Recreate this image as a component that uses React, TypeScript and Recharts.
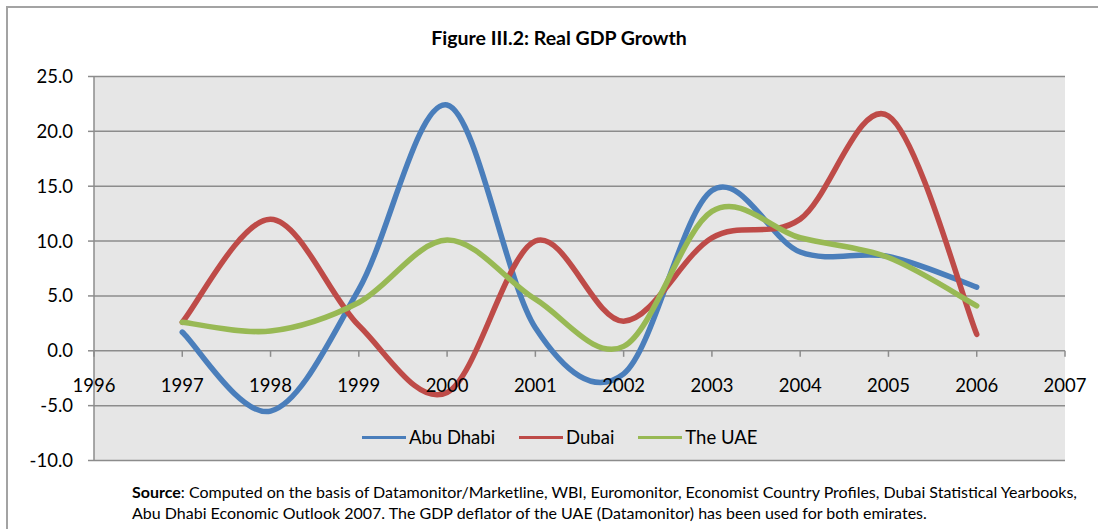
import {
  LineChart,
  Line,
  XAxis,
  YAxis,
  CartesianGrid,
  ReferenceLine,
  Legend,
} from 'recharts';

const years = [1997, 1998, 1999, 2000, 2001, 2002, 2003, 2004, 2005, 2006];
const abuDhabi = [1.7, -5.5, 5.6, 22.4, 2.1, -2.1, 14.6, 9.0, 8.6, 5.8];
const dubai = [2.6, 12.0, 2.3, -3.8, 10.0, 2.7, 10.3, 12.0, 21.4, 1.5];
const uae = [2.6, 1.8, 4.4, 10.1, 4.7, 0.4, 12.7, 10.3, 8.5, 4.1];

const xTicks = [1996, 1997, 1998, 1999, 2000, 2001, 2002, 2003, 2004, 2005, 2006, 2007];
const yTicks = [-10, -5, 0, 5, 10, 15, 20, 25];

const series = [
  { key: 'abuDhabi', name: 'Abu Dhabi', color: '#4a7ebb' },
  { key: 'dubai', name: 'Dubai', color: '#be4b48' },
  { key: 'uae', name: 'The UAE', color: '#98b954' },
];

const data = years.map((year, i) => ({
  year,
  abuDhabi: abuDhabi[i],
  dubai: dubai[i],
  uae: uae[i],
}));

const GRID = '#8c8c8c';
const FONT = 'Lato, "Open Sans", sans-serif';

// Excel-style smoothed line: bezier with catmull-rom control points
function excelCurve(ctx: any) {
  let pts: number[][] = [];
  return {
    areaStart() {},
    areaEnd() {},
    lineStart() {
      pts = [];
    },
    point(x: number, y: number) {
      pts.push([+x, +y]);
    },
    lineEnd() {
      const n = pts.length;
      if (!n) return;
      ctx.moveTo(pts[0][0], pts[0][1]);
      for (let i = 0; i < n - 1; i++) {
        const p0 = pts[Math.max(i - 1, 0)];
        const p1 = pts[i];
        const p2 = pts[i + 1];
        const p3 = pts[Math.min(i + 2, n - 1)];
        ctx.bezierCurveTo(
          p1[0] + (p2[0] - p0[0]) / 6,
          p1[1] + (p2[1] - p0[1]) / 6,
          p2[0] - (p3[0] - p1[0]) / 6,
          p2[1] - (p3[1] - p1[1]) / 6,
          p2[0],
          p2[1]
        );
      }
    },
  };
}

function LegendContent() {
  return (
    <div style={{ display: 'flex', alignItems: 'center', fontFamily: FONT, fontSize: 18.5, color: '#000' }}>
      {series.map((s) => (
        <div key={s.key} style={{ display: 'flex', alignItems: 'center', marginRight: 24 }}>
          <div style={{ width: 44, height: 3, background: s.color }} />
          <span style={{ marginLeft: 3, whiteSpace: 'nowrap' }}>{s.name}</span>
        </div>
      ))}
    </div>
  );
}

export default function App() {
  return (
    <div
      style={{
        position: 'absolute',
        left: 0,
        top: 0,
        width: 1098,
        height: 529,
        background: '#fff',
        overflow: 'hidden',
        fontFamily: FONT,
      }}
    >
      <div
        style={{
          position: 'absolute',
          left: 6,
          top: 6,
          width: 1200,
          height: 600,
          borderTop: '2px solid #a3a3a3',
          borderLeft: '2px solid #a3a3a3',
        }}
      />
      <div
        style={{
          position: 'absolute',
          left: 559,
          top: 26,
          transform: 'translateX(-50%)',
          fontWeight: 700,
          fontSize: 19.5,
          whiteSpace: 'nowrap',
          color: '#000',
        }}
      >
        Figure III.2: Real GDP Growth
      </div>
      <div style={{ position: 'absolute', left: 0, top: 0 }}>
        <LineChart
          width={1098}
          height={529}
          data={data}
          margin={{ top: 76.5, right: 33, bottom: 68.5, left: 0 }}
        >
          <CartesianGrid vertical={false} stroke={GRID} strokeWidth={1.5} fill="#e6e6e6" fillOpacity={1} />
          <XAxis dataKey="year" type="number" domain={[1996, 2007]} ticks={xTicks} hide />
          <YAxis
            type="number"
            domain={[-10, 25]}
            ticks={yTicks}
            interval={0}
            width={94}
            axisLine={{ stroke: GRID, strokeWidth: 1.5 }}
            tickLine={{ stroke: GRID, strokeWidth: 1.5 }}
            tickSize={6}
            tickMargin={15}
            tick={{ fill: '#000', fontSize: 18.5, fontFamily: FONT }}
            tickFormatter={(v: number) => v.toFixed(1)}
          />
          {xTicks.map((yr) => (
            <ReferenceLine
              key={yr}
              segment={[
                { x: yr, y: 0 },
                { x: yr, y: -0.55 },
              ]}
              stroke={GRID}
              strokeWidth={1.5}
              label={{
                value: String(yr),
                position: 'bottom',
                offset: 22,
                fill: '#000',
                fontSize: 18.5,
                fontFamily: FONT,
              }}
            />
          ))}
          <Legend
            verticalAlign="middle"
            align="center"
            layout="horizontal"
            content={<LegendContent />}
            wrapperStyle={{ left: 362, top: 426, width: 'auto', height: 'auto' }}
          />
          {series.map((s) => (
            <Line
              key={s.key}
              dataKey={s.key}
              name={s.name}
              type={excelCurve as any}
              stroke={s.color}
              strokeWidth={5.5}
              strokeLinecap="round"
              dot={false}
              activeDot={false}
              isAnimationActive={false}
            />
          ))}
        </LineChart>
      </div>
      <div
        style={{
          position: 'absolute',
          left: 132,
          top: 481,
          fontSize: 16,
          lineHeight: '21px',
          color: '#000',
          whiteSpace: 'nowrap',
        }}
      >
        <div>
          <b>Source</b>: Computed on the basis of Datamonitor/Marketline, WBI, Euromonitor, Economist Country
          Profiles, Dubai Statistical Yearbooks,
        </div>
        <div>
          Abu Dhabi Economic Outlook 2007. The GDP deflator of the UAE (Datamonitor) has been used for both
          emirates.
        </div>
      </div>
    </div>
  );
}
